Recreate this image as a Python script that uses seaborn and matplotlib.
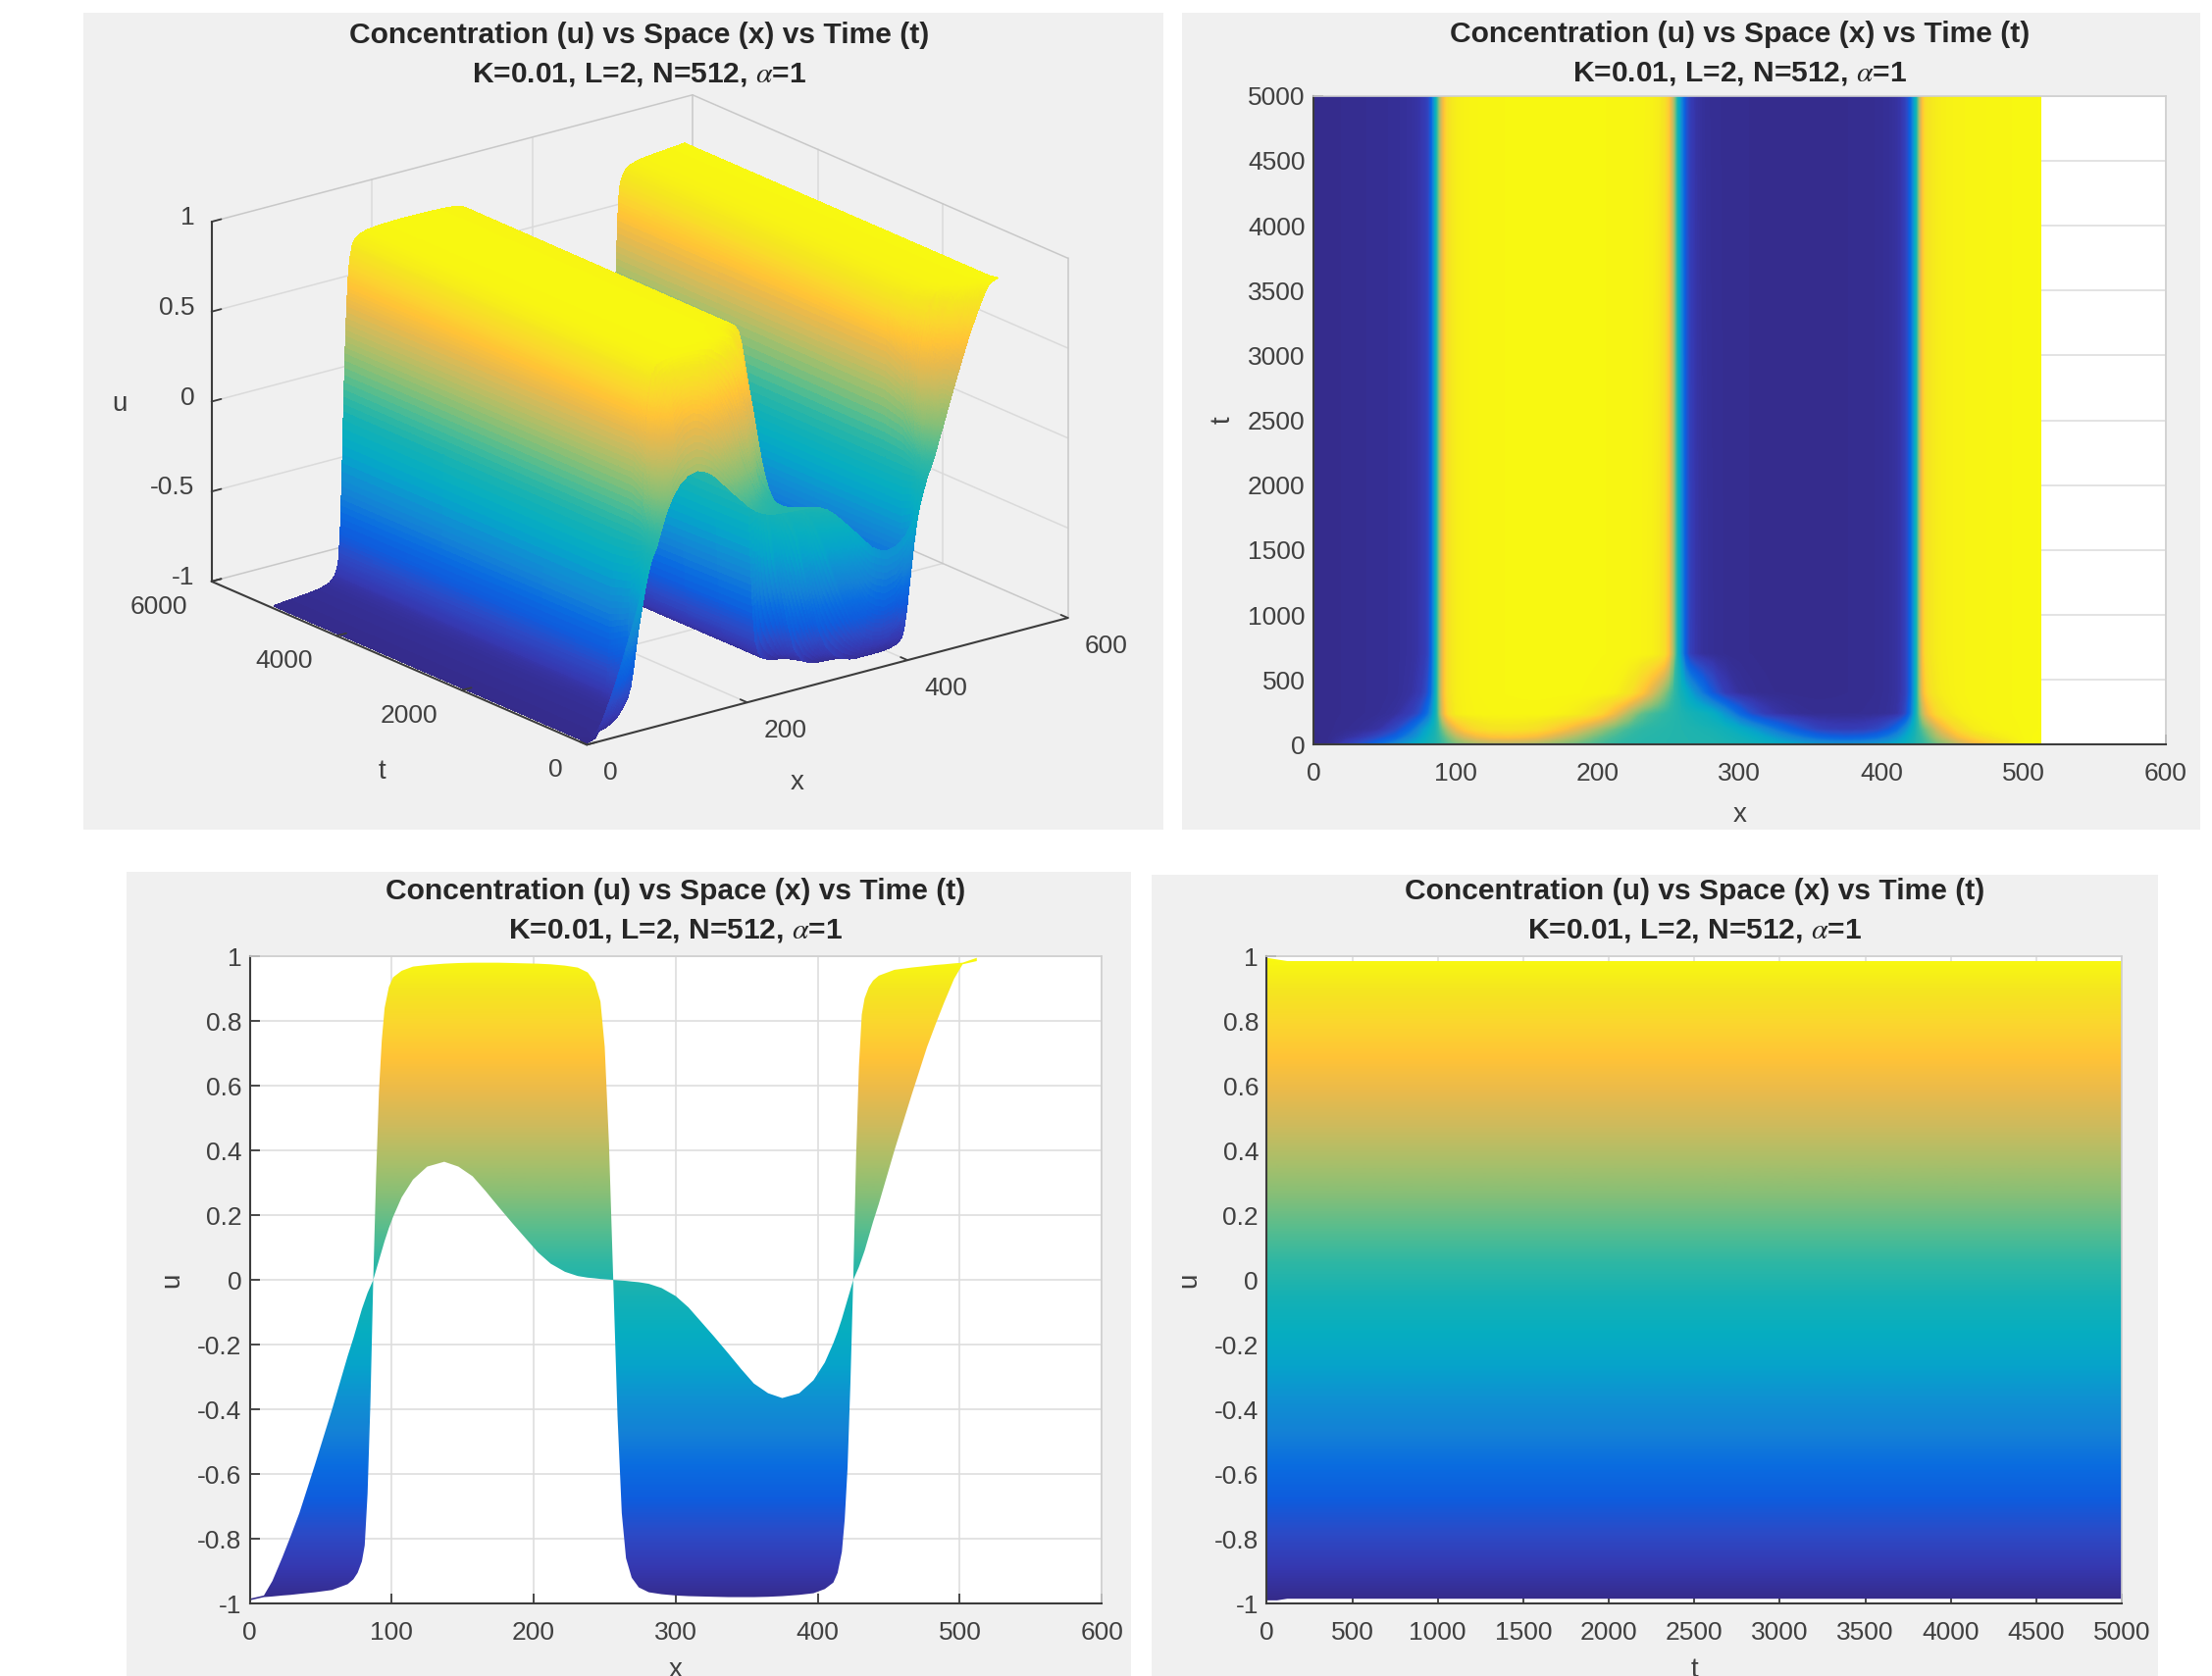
import numpy as np
import matplotlib
matplotlib.use("Agg")
import matplotlib.pyplot as plt
import seaborn as sns
from matplotlib.patches import Rectangle
from mpl_toolkits.mplot3d import proj3d

# Values
x_knots = [0, 10, 16, 23, 29, 35, 46, 58, 69, 73, 76, 79, 81, 83, 85, 87, 89, 91, 93, 95, 98, 101, 107, 115, 125, 137, 147, 157, 166, 175,
           185, 194, 203, 212, 222, 231, 238, 243, 247, 250, 253, 256,
           259, 262, 265, 269, 274, 281, 290, 300, 309, 318, 327, 337, 346, 355, 365, 375, 387, 397, 405, 411, 414, 417, 419, 421, 423,
           425, 427, 429, 431, 433, 436, 439, 443, 454, 466, 477, 483, 489, 496, 502, 512]
t_slices = [0, 60, 120, 240, 400, 700, 5000]

u_t0 = [-.99, -.975, -.93, -.857, -.79, -.72, -.57, -.40, -.235, -.18, -.135, -.09, -.065, -.04, -.02, 0, .03, .06, .09, .12, .16, .195, .255, .31, .35, .365, .35, .32, .275, .227,
        .175, .13, .085, .05, .025, .012, .007, .005, .003, .002, .001, 0,
        -.001, -.002, -.003, -.005, -.007, -.012, -.025, -.05, -.085, -.13, -.175, -.227, -.275, -.32, -.35, -.365, -.35, -.31, -.255, -.195, -.16, -.12, -.09, -.06, -.03,
        0, .02, .04, .065, .09, .135, .18, .235, .40, .57, .72, .79, .857, .93, .975, .995]
u_t60 = [-.99, -.98, -.965, -.94, -.92, -.885, -.79, -.64, -.42, -.34, -.26, -.18, -.13, -.08, -.04, 0, .055, .115, .17, .23, .31, .39, .50, .60, .66, .68, .66, .62, .54, .45,
         .35, .25, .165, .10, .05, .024, .014, .01, .006, .004, .002, 0,
         -.002, -.004, -.006, -.01, -.014, -.024, -.05, -.10, -.165, -.25, -.35, -.45, -.54, -.62, -.66, -.68, -.66, -.60, -.50, -.39, -.31, -.23, -.17, -.115, -.055,
         0, .04, .08, .13, .18, .26, .34, .42, .64, .79, .885, .92, .94, .965, .98, .99]
u_t120 = [-.985, -.98, -.975, -.97, -.965, -.955, -.925, -.80, -.58, -.47, -.36, -.27, -.21, -.14, -.07, 0, .10, .20, .30, .39, .50, .60, .72, .81, .86, .87, .86, .83, .76, .67,
          .55, .43, .30, .19, .09, .045, .028, .019, .012, .008, .004, 0,
          -.004, -.008, -.012, -.019, -.028, -.045, -.09, -.19, -.30, -.43, -.55, -.67, -.76, -.83, -.86, -.87, -.86, -.81, -.72, -.60, -.50, -.39, -.30, -.20, -.10,
          0, .07, .14, .21, .27, .36, .47, .58, .80, .925, .955, .965, .97, .975, .98, .985]
u_t240 = [-.985, -.98, -.978, -.975, -.973, -.97, -.962, -.94, -.86, -.80, -.72, -.62, -.53, -.40, -.22, 0, .28, .52, .68, .79, .88, .925, .95, .962, .968, .97, .97, .97, .965, .95,
          .92, .87, .77, .60, .36, .17, .10, .07, .045, .03, .014, 0,
          -.014, -.03, -.045, -.07, -.10, -.17, -.36, -.60, -.77, -.87, -.92, -.95, -.965, -.97, -.97, -.97, -.968, -.962, -.95, -.925, -.88, -.79, -.68, -.52, -.28,
          0, .22, .40, .53, .62, .72, .80, .86, .94, .962, .97, .973, .975, .978, .98, .985]
u_t400 = [-.985, -.98, -.978, -.975, -.973, -.97, -.965, -.958, -.93, -.90, -.87, -.80, -.72, -.58, -.33, 0, .32, .58, .74, .84, .905, .935, .955, .968, .973, .977, .979, .98, .98, .98,
          .977, .975, .965, .945, .87, .70, .52, .38, .26, .17, .08, 0,
          -.08, -.17, -.26, -.38, -.52, -.70, -.87, -.945, -.965, -.975, -.977, -.98, -.98, -.98, -.979, -.977, -.973, -.968, -.955, -.935, -.905, -.84, -.74, -.58, -.32,
          0, .33, .58, .72, .80, .87, .90, .93, .958, .965, .97, .973, .975, .978, .98, .985]
u_t700 = [-.985, -.98, -.978, -.975, -.973, -.97, -.965, -.958, -.94, -.925, -.90, -.865, -.81, -.65, -.37, 0, .32, .58, .74, .84, .905, .935, .955, .968, .973, .977, .979, .98, .98, .98,
          .979, .978, .977, .975, .97, .96, .945, .91, .84, .68, .36, 0,
          -.36, -.68, -.84, -.91, -.945, -.96, -.97, -.975, -.977, -.978, -.979, -.98, -.98, -.98, -.979, -.977, -.973, -.968, -.955, -.935, -.905, -.84, -.74, -.58, -.32,
          0, .37, .65, .81, .865, .90, .925, .94, .958, .965, .97, .973, .975, .978, .98, .985]
u_t5000 = [-.985, -.98, -.978, -.975, -.973, -.97, -.965, -.958, -.94, -.925, -.905, -.87, -.82, -.66, -.38, 0, .32, .58, .74, .84, .905, .935, .955, .968, .973, .977, .979, .98, .98, .98,
           .979, .978, .977, .975, .971, .965, .95, .92, .86, .72, .42, 0,
           -.42, -.72, -.86, -.92, -.95, -.965, -.971, -.975, -.977, -.978, -.979, -.98, -.98, -.98, -.979, -.977, -.973, -.968, -.955, -.935, -.905, -.84, -.74, -.58, -.32,
           0, .38, .66, .82, .87, .905, .925, .94, .958, .965, .97, .973, .975, .978, .98, .985]

x_ticks = [0, 100, 200, 300, 400, 500, 600]
t_ticks = [0, 500, 1000, 1500, 2000, 2500, 3000, 3500, 4000, 4500, 5000]
u_ticks = [-1, -0.8, -0.6, -0.4, -0.2, 0, 0.2, 0.4, 0.6, 0.8, 1]
x_ticks_3d = [0, 200, 400, 600]
t_ticks_3d = [0, 2000, 4000, 6000]
u_ticks_3d = [-1, -0.5, 0, 0.5, 1]

title_1 = "Concentration (u) vs Space (x) vs Time (t)"
title_2 = r"K=0.01, L=2, N=512, $\alpha$=1"

# Parula
parula_stops = ["#352a87", "#3638b0", "#2c4ac6", "#0f5cdd", "#0a6ce0", "#1481d6", "#0f91d2", "#06a4ca", "#07aec0", "#15b1b4",
                "#2eb7a4", "#58bd8e", "#87bf77", "#abbf69", "#cdbb5d", "#e9ba4c", "#ffc337", "#fbd62e", "#f5e620", "#f9fb0e"]
parula = sns.blend_palette(parula_stops, n_colors=256, as_cmap=True)

sns.set_theme(style="whitegrid", rc={"grid.color": "#dedede", "grid.linewidth": 1.2})
plt.rcParams["font.family"] = ["Liberation Sans", "DejaVu Sans"]
plt.rcParams["mathtext.fontset"] = "stix"
plt.rcParams["text.color"] = "#262626"

U = np.array([u_t0, u_t60, u_t120, u_t240, u_t400, u_t700, u_t5000])
upper_x = U.max(axis=0)
lower_x = U.min(axis=0)
upper_t = U.max(axis=1)
lower_t = U.min(axis=1)

# Coordinates below are those of the 1568 wide view of the layout
W, H = 2255, 1709
S = W / 1568
DARK = "#3c3c3c"
fig = plt.figure(figsize=(W / 100, H / 100), dpi=100, facecolor="white")


def fx(x):
    return x * S / W


def fy(y):
    return 1 - y * S / H


def grey_box(x0, y0, x1, y1):
    fig.add_artist(Rectangle((fx(x0), fy(y1)), fx(x1) - fx(x0), fy(y0) - fy(y1), transform=fig.transFigure,
                             facecolor="#f0f0f0", edgecolor="none", zorder=-5))


def titles(cx, y1, y2):
    fig.text(fx(cx), fy(y1), title_1, ha="center", va="center", fontsize=21.6, fontweight="bold")
    fig.text(fx(cx), fy(y2), title_2, ha="center", va="center", fontsize=21.6, fontweight="bold")


def flat_axes(x0, x1, y0, y1, xlim, ylim, xticks, yticks, xlabel, ylabel, xlab_y, ylab_x):
    ax = fig.add_axes([fx(x0), fy(y1), fx(x1) - fx(x0), fy(y0) - fy(y1)], facecolor="white")
    ax.set_xlim(xlim)
    ax.set_ylim(ylim)
    ax.set_xticks(xticks)
    ax.set_yticks(yticks)
    ax.set_xticklabels([str(v) for v in xticks])
    ax.set_yticklabels([f"{v:g}" for v in yticks])
    ax.tick_params(direction="in", length=7, width=1.3, color=DARK, labelcolor="#404040", labelsize=19, pad=12.5,
                   bottom=True, left=True, top=False, right=False)
    ax.tick_params(axis="y", pad=6)
    for side in ["left", "bottom"]:
        ax.spines[side].set_color(DARK)
        ax.spines[side].set_linewidth(1.5)
    for side in ["top", "right"]:
        ax.spines[side].set_color("#cfcfcf")
        ax.spines[side].set_linewidth(1.2)
    ax.set_axisbelow(True)
    ax.set_xlabel(xlabel, fontsize=20, color="#404040")
    ax.set_ylabel(ylabel, fontsize=20, color="#404040")
    ax.xaxis.set_label_coords(0.5, (y1 - xlab_y) / (y1 - y0))
    ax.yaxis.set_label_coords((ylab_x - x0) / (x1 - x0), 0.5)
    return ax


def ramp(ax, poly, extent):
    # colour ramp clipped to the filled area
    ramp_values = np.linspace(-1, 1, 512).reshape(-1, 1)
    im = ax.imshow(ramp_values, extent=extent, origin="lower", aspect="auto", cmap=parula, vmin=-1, vmax=1, zorder=2)
    im.set_clip_path(poly.get_paths()[0], transform=ax.transData)


for box in [(59, 9, 825, 588), (838, 9, 1560, 588), (90, 618, 802, 1188), (816, 620, 1530, 1188)]:
    grey_box(*box)

# Panel 2: x against t seen from above
ax2 = flat_axes(931, 1535, 68, 528, (0, 600), (0, 5000), x_ticks, t_ticks, "x", "t", 569, 876)
ax2.contourf(x_knots, t_slices, U, levels=np.linspace(-1, 1, 256), cmap=parula, vmin=-1, vmax=1, zorder=2)
titles(1233, 24, 52)

# Panel 3: u against x
ax3 = flat_axes(177, 781, 678, 1137, (0, 600), (-1, 1), x_ticks, u_ticks, "x", "u", 1175, 131)
poly3 = ax3.fill_between(x_knots, lower_x, upper_x, color="none", linewidth=0)
ramp(ax3, poly3, [0, 512, -1, 1])
titles(479, 632, 660)

# Panel 4: u against t
ax4 = flat_axes(898, 1504, 678, 1137, (0, 5000), (-1, 1), t_ticks, u_ticks, "t", "u", 1175, 852)
poly4 = ax4.fill_between(t_slices, lower_t, upper_t, color="none", linewidth=0)
ramp(ax4, poly4, [0, 5000, -1, 1])
titles(1201, 632, 660)

# Panel 1: the surface. plot_surface has no gouraud, so the read profiles get
# subdivided for colour shading only
ax1 = fig.add_axes([fx(100), fy(560), 0.3, 0.3], projection="3d", proj_type="ortho", computed_zorder=False)
ax1.set_axis_off()
ax1.patch.set_alpha(0)
ax1.view_init(elev=19.8, azim=-127.9)
ax1.set_box_aspect((432, 433, 271))
ax1.set_xlim(0, 600)
ax1.set_ylim(0, 6000)
ax1.set_zlim(-1, 1)

x_fine = np.concatenate([np.linspace(a, b, 8, endpoint=False) for a, b in zip(x_knots[:-1], x_knots[1:])] + [[512]])
t_fine = np.concatenate([np.linspace(a, b, 8, endpoint=False) for a, b in zip(t_slices[:-1], t_slices[1:])] + [[5000]])
u_mid = np.array([np.interp(x_fine, x_knots, row) for row in U])
u_fine = np.array([np.interp(t_fine, t_slices, u_mid[:, j]) for j in range(len(x_fine))]).T
X, T = np.meshgrid(x_fine, t_fine)
colors = parula((u_fine + 1) / 2)

light = "#dadada"
for v in x_ticks_3d[1:-1]:
    ax1.plot([v, v], [0, 6000], [-1, -1], color=light, lw=1.1, zorder=1)
    ax1.plot([v, v], [6000, 6000], [-1, 1], color=light, lw=1.1, zorder=1)
for v in t_ticks_3d[1:-1]:
    ax1.plot([0, 600], [v, v], [-1, -1], color=light, lw=1.1, zorder=1)
    ax1.plot([600, 600], [v, v], [-1, 1], color=light, lw=1.1, zorder=1)
for v in u_ticks_3d[1:-1]:
    ax1.plot([0, 600], [6000, 6000], [v, v], color=light, lw=1.1, zorder=1)
    ax1.plot([600, 600], [0, 6000], [v, v], color=light, lw=1.1, zorder=1)
box_edges = [([0, 600], [6000, 6000], [1, 1]), ([600, 600], [0, 6000], [1, 1]), ([600, 600], [6000, 6000], [-1, 1]),
             ([600, 600], [0, 0], [-1, 1]), ([0, 600], [6000, 6000], [-1, -1]), ([600, 600], [0, 6000], [-1, -1])]
for ex, ey, ez in box_edges:
    ax1.plot(ex, ey, ez, color="#c8c8c8", lw=1.1, zorder=1)

# facecolors also colour the edges, which closes the seams between the quads
ax1.plot_surface(X, T, u_fine, facecolors=colors, rstride=1, cstride=1, linewidth=0.5, antialiased=False, shade=False, zorder=2)

ax1.plot([0, 600], [0, 0], [-1, -1], color=DARK, lw=1.5, zorder=3)
ax1.plot([0, 0], [0, 6000], [-1, -1], color=DARK, lw=1.5, zorder=3)
ax1.plot([0, 0], [6000, 6000], [-1, 1], color=DARK, lw=1.5, zorder=3)
for v in x_ticks_3d:
    ax1.plot([v, v], [0, 110], [-1, -1], color=DARK, lw=1.3, zorder=3)
    ax1.text(v - 38, -755, -1, str(v), ha="left", va="center", fontsize=19, color="#404040")
for v in t_ticks_3d:
    ax1.plot([0, 12], [v, v], [-1, -1], color=DARK, lw=1.3, zorder=3)
    ax1.text(-64, v - 436, -1, str(v), ha="right", va="center", fontsize=19, color="#404040")
for v in u_ticks_3d:
    ax1.plot([0, 12], [6000, 6000], [v, v], color=DARK, lw=1.3, zorder=3)
    ax1.text(-13, 6102, v + 0.02, f"{v:g}", ha="right", va="center", fontsize=19, color="#404040")
ax1.text(95, -2141, -1, "x", ha="center", va="center", fontsize=20, color="#404040")
ax1.text(-207, 623, -1, "t", ha="center", va="center", fontsize=20, color="#404040")
ax1.text(-76, 6489, 0, "u", ha="center", va="center", rotation=90, fontsize=20, color="#404040")
titles(453, 25, 53)


def corners():
    # left, right, front corners of the floor in pixels from the bottom left
    xs, ys, _ = proj3d.proj_transform(np.array([0, 600, 0]), np.array([6000, 0, 0]), np.array([-1, -1, -1]), ax1.get_proj())
    return ax1.transData.transform(np.column_stack([xs, ys]))


# scale and move the box so its corners land where the reference has them
target_front = np.array([416 * S, H - 528 * S])
for _ in range(3):
    fig.canvas.draw()
    c = corners()
    scale = (757 - 150) * S / (c[1, 0] - c[0, 0])
    pos = ax1.get_position(original=True)
    new_w = pos.width * scale
    new_h = pos.height * scale
    ax1.set_position([pos.x0 - (new_w - pos.width) / 2, pos.y0 - (new_h - pos.height) / 2, new_w, new_h])
    fig.canvas.draw()
    c = corners()
    pos = ax1.get_position(original=True)
    ax1.set_position([pos.x0 + (target_front[0] - c[2, 0]) / W, pos.y0 + (target_front[1] - c[2, 1]) / H, pos.width, pos.height])

fig.savefig("out.png", dpi=100)
